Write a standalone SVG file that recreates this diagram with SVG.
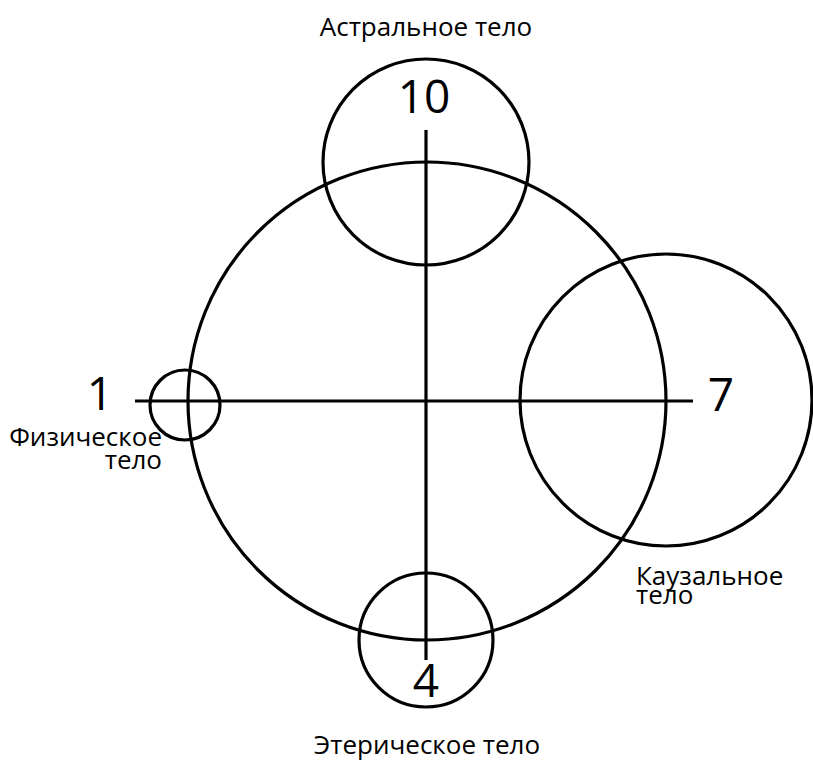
<svg xmlns="http://www.w3.org/2000/svg" width="813" height="761" viewBox="0 0 813 761">
<style>
.c{fill:none;stroke:#000;stroke-width:3.2}
.l{stroke:#000;stroke-width:3.2;fill:none}
.t{font-family:"Open Sans","Noto Sans","DejaVu Sans",sans-serif;font-size:26px;fill:#000}
.n{font-family:"Open Sans","Noto Sans","DejaVu Sans",sans-serif;font-size:46px;fill:#000}
</style>
<rect width="813" height="761" fill="#fff"/>
<g id="main"><circle class="c" cx="427" cy="401" r="239"/></g>
<g id="astral"><circle class="c" cx="426" cy="162" r="103"/>
<text class="n" x="424" y="113" text-anchor="middle">10</text>
<text class="t" x="426" y="36" text-anchor="middle">Астральное тело</text></g>
<g id="physical"><circle class="c" cx="185" cy="405" r="35"/>
<text class="n" x="100" y="410" text-anchor="middle">1</text>
<text class="t" x="162" y="446" text-anchor="end">Физическое</text>
<text class="t" x="162" y="469" text-anchor="end">тело</text></g>
<g id="causal"><circle class="c" cx="666" cy="400" r="146"/>
<text class="n" x="721" y="411" text-anchor="middle">7</text>
<text class="t" x="636" y="585">Каузальное</text>
<text class="t" x="636" y="604">тело</text></g>
<g id="etheric"><circle class="c" cx="426" cy="640" r="67"/>
<text class="n" x="426" y="697" text-anchor="middle">4</text>
<text class="t" x="427" y="754" text-anchor="middle">Этерическое тело</text></g>
<g id="connectors">
<line class="l" x1="426" y1="130" x2="426" y2="660"/>
<line class="l" x1="135" y1="401" x2="693" y2="401"/>
</g>
</svg>
